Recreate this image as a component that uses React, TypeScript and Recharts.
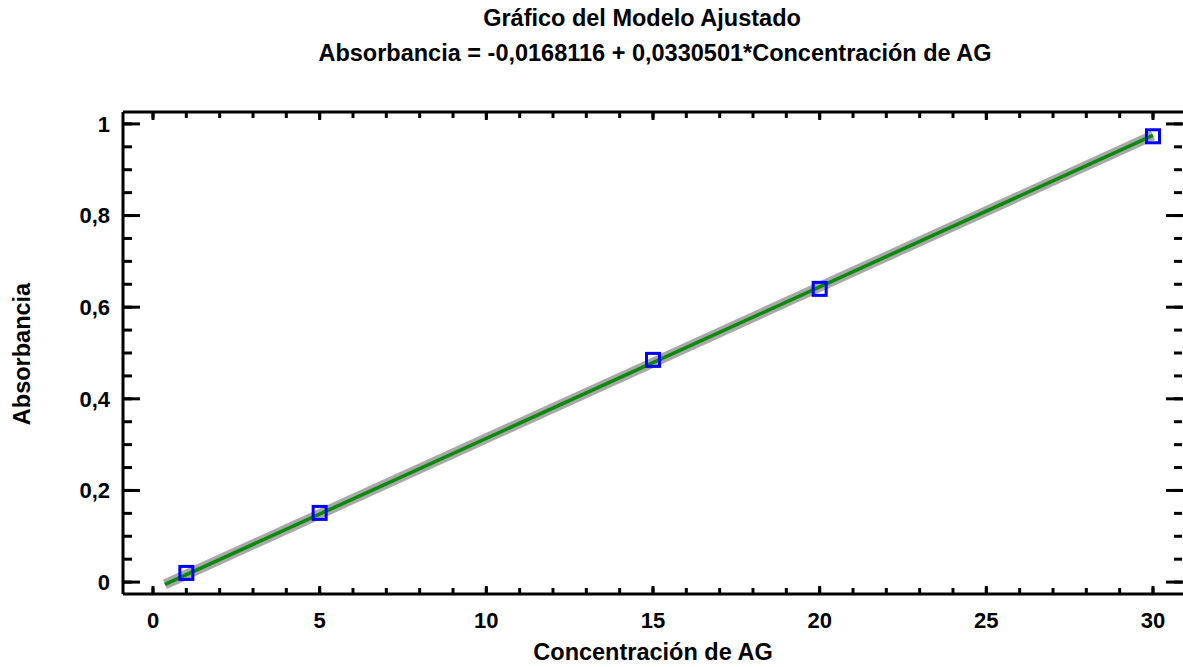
import { ComposedChart, Line, Scatter, XAxis, YAxis } from 'recharts';

const concentracion = [1, 5, 15, 20, 30];
const absorbancia = [0.02, 0.151, 0.485, 0.64, 0.973];

// fitted line end points
const ajusteX = [0.36, 30];
const ajusteY = [-0.005, 0.975];

const xMajor = [0, 5, 10, 15, 20, 25, 30];
const xMinor = [0, 1, 2, 3, 4, 5, 6, 7, 8, 9, 10, 11, 12, 13, 14, 15, 16, 17, 18, 19, 20, 21, 22, 23, 24, 25, 26, 27, 28, 29, 30];
const yMajor = [0, 0.2, 0.4, 0.6, 0.8, 1];
const yMinor = [0, 0.05, 0.1, 0.15, 0.2, 0.25, 0.3, 0.35, 0.4, 0.45, 0.5, 0.55, 0.6, 0.65, 0.7, 0.75, 0.8, 0.85, 0.9, 0.95, 1];

const xDomain = [-0.9, 30.9];
const yDomain = [-0.026, 1.026];

const puntos = concentracion.map((x, i) => ({ x, y: absorbancia[i] }));
const ajuste = ajusteX.map((x, i) => ({ x, y: ajusteY[i] }));

const FONT = '"Liberation Sans", Arial, sans-serif';
const fmt = (v: number) => String(v).replace('.', ',');
const tickStyle = { fill: '#000', fontSize: 22, fontWeight: 'bold', fontFamily: FONT };
const lineStyle = { stroke: '#000', strokeWidth: 3 };

// tick marks only, no text
const NoLabel = () => <g />;

const Square = (props: any) => {
  const { cx, cy } = props;
  return <rect x={cx - 6.5} y={cy - 6.5} width={13} height={13} fill="none" stroke="#0000ff" strokeWidth={3} />;
};

export default function App() {
  return (
    <div style={{ position: 'absolute', left: 0, top: 0, width: 1183, height: 667, background: '#fff', fontFamily: FONT, fontWeight: 'bold', color: '#000' }}>
      <div style={{ position: 'absolute', left: 642, top: 18, transform: 'translate(-50%, -50%)', whiteSpace: 'nowrap', fontSize: 23.5 }}>
        Gráfico del Modelo Ajustado
      </div>
      <div style={{ position: 'absolute', left: 655, top: 53, transform: 'translate(-50%, -50%)', whiteSpace: 'nowrap', fontSize: 23.5 }}>
        Absorbancia = -0,0168116 + 0,0330501*Concentración de AG
      </div>
      <div style={{ position: 'absolute', left: 653, top: 652, transform: 'translate(-50%, -50%)', whiteSpace: 'nowrap', fontSize: 23.5 }}>
        Concentración de AG
      </div>
      <div style={{ position: 'absolute', left: 22, top: 354, transform: 'translate(-50%, -50%) rotate(-90deg)', whiteSpace: 'nowrap', fontSize: 23.5 }}>
        Absorbancia
      </div>
      <ComposedChart width={1183} height={667} margin={{ top: 112, right: 0, left: 23, bottom: 33 }} style={{ position: 'absolute', left: 0, top: 0 }}>
        {/* label axes */}
        <XAxis xAxisId="x" dataKey="x" type="number" domain={xDomain} allowDataOverflow ticks={xMajor} interval={0}
          height={40} tickLine={false} axisLine={false} tickSize={0} tickMargin={18} tick={tickStyle} />
        <YAxis yAxisId="y" dataKey="y" type="number" domain={yDomain} allowDataOverflow ticks={yMajor} interval={0}
          width={100} tickLine={false} axisLine={false} tickSize={0} tickMargin={13} tick={tickStyle} tickFormatter={fmt} />

        {/* frame and tick marks */}
        <XAxis xAxisId="bMaj" dataKey="x" type="number" domain={xDomain} allowDataOverflow ticks={xMajor} interval={0} mirror height={1}
          tick={NoLabel} tickSize={8} tickLine={lineStyle} axisLine={lineStyle} />
        <XAxis xAxisId="bMin" dataKey="x" type="number" domain={xDomain} allowDataOverflow ticks={xMinor} interval={0} mirror height={1}
          tick={NoLabel} tickSize={5} tickLine={lineStyle} axisLine={false} />
        <XAxis xAxisId="tMaj" dataKey="x" orientation="top" type="number" domain={xDomain} allowDataOverflow ticks={xMajor} interval={0} mirror height={1}
          tick={NoLabel} tickSize={8} tickLine={lineStyle} axisLine={lineStyle} />
        <XAxis xAxisId="tMin" dataKey="x" orientation="top" type="number" domain={xDomain} allowDataOverflow ticks={xMinor} interval={0} mirror height={1}
          tick={NoLabel} tickSize={5} tickLine={lineStyle} axisLine={false} />
        <YAxis yAxisId="lMaj" type="number" domain={yDomain} allowDataOverflow ticks={yMajor} interval={0} mirror width={1}
          tick={NoLabel} tickSize={17} tickLine={lineStyle} axisLine={lineStyle} />
        <YAxis yAxisId="lMin" type="number" domain={yDomain} allowDataOverflow ticks={yMinor} interval={0} mirror width={1}
          tick={NoLabel} tickSize={8} tickLine={lineStyle} axisLine={false} />
        <YAxis yAxisId="rMaj" orientation="right" type="number" domain={yDomain} allowDataOverflow ticks={yMajor} interval={0} mirror width={1}
          tick={NoLabel} tickSize={17} tickLine={lineStyle} axisLine={false} />
        <YAxis yAxisId="rMin" orientation="right" type="number" domain={yDomain} allowDataOverflow ticks={yMinor} interval={0} mirror width={1}
          tick={NoLabel} tickSize={8} tickLine={lineStyle} axisLine={false} />

        <Scatter xAxisId="x" yAxisId="y" data={puntos} dataKey="y" shape={Square} isAnimationActive={false} />
        <Line xAxisId="x" yAxisId="y" data={ajuste} dataKey="y" stroke="#a8a8a8" strokeWidth={10} dot={false} activeDot={false} isAnimationActive={false} />
        <Line xAxisId="x" yAxisId="y" data={ajuste} dataKey="y" stroke="#0a8a0a" strokeWidth={3.5} dot={false} activeDot={false} isAnimationActive={false} />
      </ComposedChart>
    </div>
  );
}
